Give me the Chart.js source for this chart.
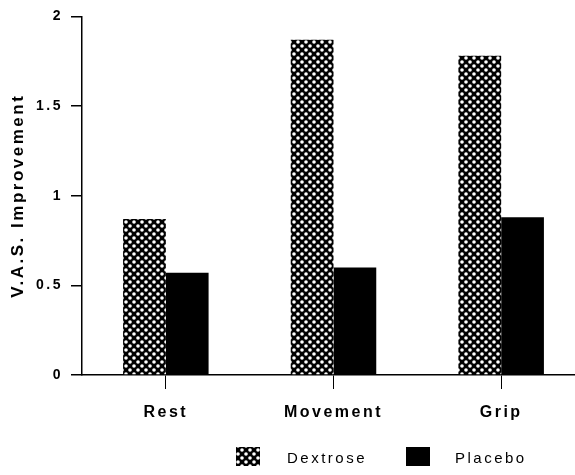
<!DOCTYPE html>
<html>
<head>
<meta charset="utf-8">
<script src="https://cdn.jsdelivr.net/npm/chart.js@4"></script>
<style>
  html, body { margin: 0; padding: 0; background: #fff; overflow: hidden; }
  #wrap { width: 585px; height: 475px; position: relative; }
</style>
</head>
<body>
<div id="wrap"><canvas id="chart"></canvas></div>
<script>
var categories = ['Rest', 'Movement', 'Grip'];
var dextrose = [0.87, 1.87, 1.78];
var placebo = [0.57, 0.6, 0.88];
var yTicks = [0, 0.5, 1, 1.5, 2];

function dotPattern() {
  var c = document.createElement('canvas');
  c.width = 8; c.height = 8;
  var g = c.getContext('2d');
  g.fillStyle = '#000';
  g.fillRect(0, 0, 8, 8);
  g.fillStyle = '#fff';
  [[2, 2], [6, 6]].forEach(function(p) {
    g.beginPath();
    g.arc(p[0], p[1], 1.8, 0, Math.PI * 2);
    g.fill();
  });
  return g.createPattern(c, 'repeat');
}

var pattern = dotPattern();
var FONT = '"Liberation Sans", Arial, sans-serif';

// the scanned lettering is spread out, so widen it for all axis text
var spacingPlugin = {
  id: 'spacing',
  beforeDraw: function(chart) { chart.ctx.letterSpacing = '2.5px'; }
};

// legend drawn by hand so the spacing matches the original
var legendPlugin = {
  id: 'manualLegend',
  afterDraw: function(chart) {
    var ctx = chart.ctx;
    var items = [
      { label: 'Dextrose', fill: pattern, box: 236, text: 287 },
      { label: 'Placebo', fill: '#000', box: 406, text: 455 }
    ];
    ctx.save();
    ctx.font = '15px ' + FONT;
    ctx.letterSpacing = '2.5px';
    ctx.textBaseline = 'middle';
    items.forEach(function(it) {
      ctx.fillStyle = it.fill;
      ctx.fillRect(it.box, 447, 24, 19);
      ctx.fillStyle = '#000';
      ctx.fillText(it.label, it.text, 459);
    });
    ctx.restore();
  }
};

new Chart(document.getElementById('chart'), {
  type: 'bar',
  data: {
    labels: categories,
    datasets: [
      { label: 'Dextrose', data: dextrose, backgroundColor: pattern, borderWidth: 0 },
      { label: 'Placebo', data: placebo, backgroundColor: '#000', borderWidth: 0 }
    ]
  },
  plugins: [spacingPlugin, legendPlugin],
  options: {
    responsive: true,
    maintainAspectRatio: false,
    animation: false,
    layout: { padding: { top: 15, right: 0, left: 0, bottom: 0 } },
    plugins: { legend: { display: false }, tooltip: { enabled: false } },
    datasets: { bar: { categoryPercentage: 0.51, barPercentage: 1 } },
    scales: {
      x: {
        afterFit: function(s) { s.height = 100; },
        border: { display: true, color: '#000', width: 1.5 },
        grid: { offset: false, drawOnChartArea: false, drawTicks: true, tickLength: 14, color: '#000', lineWidth: 1 },
        ticks: { color: '#000', padding: 14, font: { family: FONT, size: 16, weight: 'bold' } }
      },
      y: {
        min: 0,
        max: 2,
        afterFit: function(s) { s.width = 82; },
        afterBuildTicks: function(s) { s.ticks = yTicks.map(function(v) { return { value: v }; }); },
        border: { display: true, color: '#000', width: 1.5 },
        grid: { drawOnChartArea: false, drawTicks: true, tickLength: 11, color: '#000', lineWidth: 1.5 },
        ticks: {
          color: '#000', padding: 8,
          font: { family: FONT, size: 14, weight: 'bold' },
          callback: function(v) { return String(v); }
        },
        title: { display: true, text: 'V.A.S. Improvement', color: '#000', padding: { top: 8, bottom: 0 }, font: { family: FONT, size: 17, weight: 'bold' } }
      }
    }
  }
});
</script>
</body>
</html>
